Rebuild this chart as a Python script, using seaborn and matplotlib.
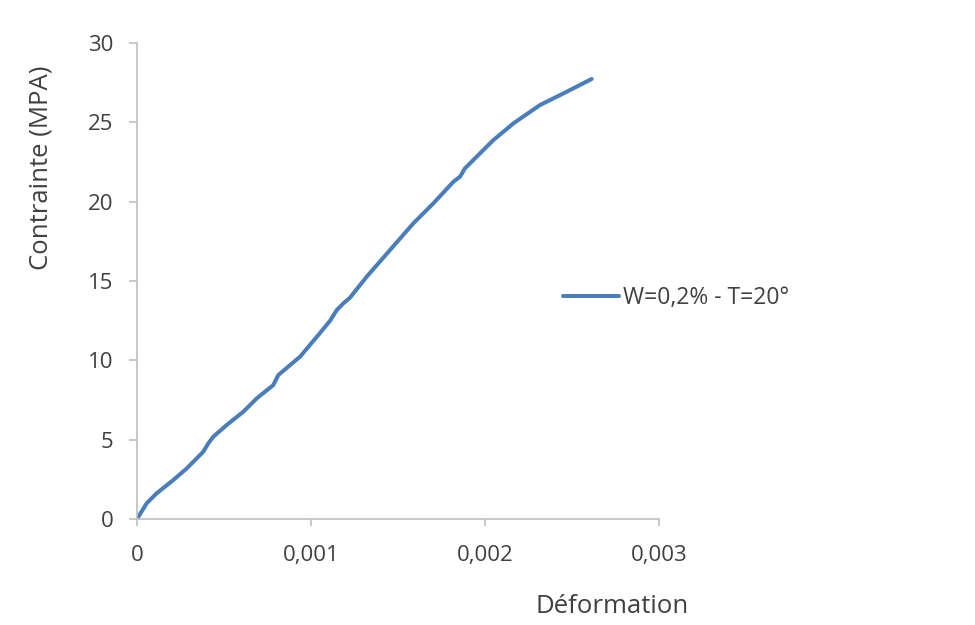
import matplotlib
matplotlib.use("Agg")
import matplotlib.pyplot as plt
import seaborn as sns
import pandas as pd

# Stress-strain curve (strain, stress in MPa)
deformation = [0.0, 0.0000557, 0.000113, 0.000209, 0.000286, 0.000381, 0.00041,
               0.000439, 0.000515, 0.000611, 0.000688, 0.000783, 0.000812,
               0.000937, 0.00105, 0.00111, 0.001148, 0.001186, 0.001224,
               0.00132, 0.001454, 0.001588, 0.001703, 0.001818, 0.001856,
               0.001885, 0.001971, 0.002048, 0.002163, 0.002316, 0.00245, 0.002613]
contrainte = [0.0, 0.99, 1.62, 2.46, 3.19, 4.24, 4.77,
              5.19, 5.92, 6.76, 7.6, 8.44, 9.07,
              10.23, 11.7, 12.5, 13.17, 13.59, 13.95,
              15.27, 16.95, 18.63, 19.89, 21.25, 21.57,
              22.1, 23.04, 23.88, 24.93, 26.09, 26.82, 27.73]
serie = "W=0,2% - T=20°"

x_ticks = [0, 0.001, 0.002, 0.003]
x_labels = ["0", "0,001", "0,002", "0,003"]
y_ticks = [0, 5, 10, 15, 20, 25, 30]

df = pd.DataFrame({"Déformation": deformation, "Contrainte": contrainte, "Série": serie})

sns.set_theme(style="white")
plt.rcParams["font.family"] = ["Open Sans", "DejaVu Sans"]

text_color = "#404040"
axis_color = "#BFBFBF"
line_color = "#4A7EBB"

fig = plt.figure(figsize=(9.75, 6.25), dpi=100)
ax = fig.add_axes([137 / 975, 1 - 519 / 625, (659 - 137) / 975, (519 - 43) / 625])

sns.lineplot(data=df, x="Déformation", y="Contrainte", hue="Série",
             palette=[line_color], sort=False, estimator=None,
             linewidth=2.9, ax=ax)

ax.set_xlim(0, 0.003)
ax.set_ylim(0, 30)
ax.set_xticks(x_ticks)
ax.set_xticklabels(x_labels)
ax.set_yticks(y_ticks)

for side in ("top", "right"):
    ax.spines[side].set_visible(False)
for side in ("left", "bottom"):
    ax.spines[side].set_color(axis_color)
    ax.spines[side].set_linewidth(1.2)

ax.tick_params(axis="both", colors=axis_color, labelcolor=text_color,
               labelsize=16, width=1.2)
ax.tick_params(axis="y", direction="out", length=6, left=True, pad=11)
ax.tick_params(axis="x", direction="out", length=5, bottom=True, pad=14)

ax.set_xlabel("Déformation", fontsize=18.5, color=text_color)
ax.set_ylabel("Contrainte (MPA)", fontsize=18.5, color=text_color)
ax.xaxis.set_label_coords(0.91, -0.158)
ax.yaxis.set_label_coords(-0.160, 0.737)

ax.legend(loc="center left", bbox_to_anchor=(563 / 975, 1 - 298 / 625),
          bbox_transform=fig.transFigure, frameon=False, fontsize=16.5,
          handlelength=2.45, handletextpad=0.15, borderpad=0, borderaxespad=0,
          labelcolor=text_color)

fig.savefig("out.png", dpi=100, facecolor="white")
